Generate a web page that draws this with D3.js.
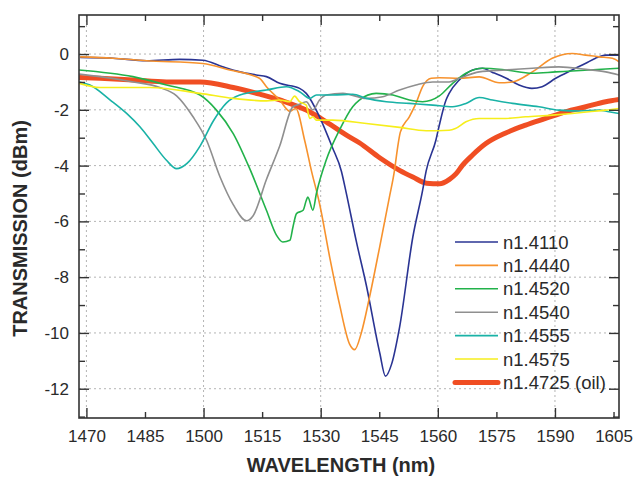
<!DOCTYPE html>
<html>
<head>
<meta charset="utf-8">
<style>
  body { margin: 0; background: #fff; }
  text { font-family: "Liberation Sans", Arial, sans-serif; fill: #2a2a2a; }
  .grid line { stroke: #b4b4b4; stroke-width: 1; stroke-dasharray: 2,3; }
</style>
<script src="https://d3js.org/d3.v7.min.js"></script>
</head>
<body>
<div id="chart"></div>
<script>
// series: [wavelength nm, transmission dBm]
var n14110 = [[1468.4,-0.12],[1476.8,-0.15],[1485.4,-0.24],[1493.9,-0.19],[1499.8,-0.22],[1504.9,-0.46],[1509.3,-0.64],[1513.5,-0.75],[1516.1,-0.81],[1519.5,-1.05],[1524.6,-1.23],[1526.3,-1.41],[1529.7,-2.25],[1533.0,-3.35],[1535.3,-4.2],[1536.5,-4.95],[1539.1,-6.7],[1541.7,-8.3],[1545.1,-10.7],[1546.6,-11.55],[1548.2,-11.1],[1550.2,-9.8],[1553.6,-6.56],[1556.1,-4.89],[1557.0,-4.2],[1559.5,-3.09],[1560.3,-2.6],[1562.1,-1.65],[1562.9,-1.41],[1565.5,-0.93],[1568.9,-0.57],[1571.4,-0.51],[1573.9,-0.65],[1577.4,-0.86],[1580.8,-1.11],[1584.1,-1.23],[1586.7,-1.17],[1590.2,-0.87],[1594.4,-0.57],[1597.9,-0.33],[1600.4,-0.15],[1603.0,-0.04],[1606.4,-0.04]];
var n14440 = [[1468.4,-0.1],[1476.8,-0.15],[1485.4,-0.24],[1499.8,-0.34],[1506.7,-0.57],[1514.3,-0.87],[1516.1,-1.17],[1519.5,-1.65],[1522.1,-2.05],[1523.6,-1.95],[1525.9,-3.1],[1527.6,-4.17],[1529.7,-5.36],[1532.3,-7.28],[1534.8,-8.96],[1537.4,-10.4],[1538.7,-10.6],[1540.4,-10.0],[1542.5,-8.72],[1545.1,-6.92],[1547.6,-5.13],[1548.9,-4.17],[1549.6,-3.45],[1550.4,-2.8],[1552.7,-2.25],[1554.4,-1.77],[1556.1,-1.17],[1558.3,-0.87],[1560.4,-0.85],[1565.5,-0.87],[1570.6,-0.82],[1575.7,-1.03],[1579.1,-1.0],[1584.2,-0.64],[1589.3,-0.15],[1594.4,0.02],[1597.9,-0.04],[1601.3,-0.1],[1604.7,-0.15],[1606.4,-0.28]];
var n14520 = [[1468.1,-0.57],[1481.9,-0.81],[1490.5,-1.11],[1499.1,-1.47],[1503.3,-2.01],[1507.6,-2.85],[1511.8,-4.1],[1516.1,-5.6],[1518.7,-6.5],[1520.3,-6.74],[1522.1,-6.68],[1522.9,-6.2],[1523.8,-5.72],[1525.5,-5.6],[1526.3,-5.25],[1526.7,-5.13],[1528.0,-5.6],[1528.9,-5.0],[1531.4,-3.81],[1534.8,-2.73],[1538.2,-1.89],[1539.9,-1.65],[1544.2,-1.41],[1548.5,-1.47],[1552.7,-1.65],[1556.1,-1.71],[1560.4,-1.5],[1563.8,-1.05],[1567.2,-0.69],[1571.5,-0.51],[1577.4,-0.57],[1584.2,-0.69],[1590.2,-0.64],[1598.7,-0.57],[1606.4,-0.51]];
var n14540 = [[1468.1,-0.72],[1473.5,-0.81],[1482.0,-1.0],[1488.8,-1.2],[1493.1,-1.5],[1497.3,-2.25],[1500.8,-3.1],[1504.2,-4.4],[1507.6,-5.4],[1511.0,-5.98],[1512.7,-5.8],[1516.1,-4.5],[1519.5,-3.3],[1522.9,-1.89],[1524.6,-1.8],[1526.3,-1.71],[1528.0,-2.0],[1529.7,-1.65],[1531.4,-1.47],[1535.7,-1.41],[1541.7,-1.59],[1545.9,-1.53],[1550.2,-1.29],[1554.4,-1.11],[1558.7,-1.0],[1562.9,-1.0],[1565.5,-0.87],[1570.6,-0.64],[1577.4,-0.57],[1584.2,-0.51],[1591.0,-0.46],[1597.9,-0.55],[1603.0,-0.64],[1606.4,-0.75]];
var n14555 = [[1468.1,-1.0],[1470.9,-1.11],[1476.1,-1.65],[1480.3,-2.13],[1483.7,-2.61],[1487.1,-3.21],[1490.5,-3.81],[1493.1,-4.11],[1495.7,-3.93],[1499.1,-3.3],[1502.5,-2.4],[1505.9,-1.75],[1509.3,-1.47],[1511.8,-1.38],[1516.1,-1.29],[1521.2,-1.17],[1524.6,-1.35],[1527.2,-1.59],[1528.9,-1.47],[1533.1,-1.47],[1538.2,-1.44],[1541.7,-1.59],[1546.8,-1.71],[1552.7,-1.77],[1558.7,-1.83],[1563.8,-1.89],[1567.2,-1.77],[1570.6,-1.56],[1574.0,-1.65],[1579.1,-1.77],[1585.9,-1.89],[1591.0,-2.01],[1596.1,-2.04],[1601.3,-2.01],[1603.8,-2.07],[1606.4,-2.13]];
var n14575 = [[1468.1,-1.05],[1473.5,-1.2],[1486.3,-1.2],[1499.1,-1.41],[1507.6,-1.59],[1516.1,-1.68],[1519.5,-1.65],[1522.1,-1.71],[1523.3,-1.51],[1524.6,-1.71],[1526.3,-1.83],[1527.2,-2.31],[1528.0,-2.25],[1528.9,-2.37],[1533.1,-2.37],[1541.7,-2.49],[1550.2,-2.63],[1557.0,-2.75],[1562.9,-2.73],[1564.5,-2.67],[1567.2,-2.43],[1570.6,-2.31],[1577.4,-2.31],[1582.5,-2.25],[1589.3,-2.19],[1594.4,-2.13],[1598.7,-2.07],[1603.0,-2.01],[1606.4,-1.95]];
var n14725 = [[1468.1,-0.84],[1473.5,-0.87],[1482.0,-0.93],[1490.5,-1.0],[1499.1,-1.0],[1507.6,-1.2],[1514.4,-1.44],[1520.3,-1.68],[1526.3,-2.01],[1531.4,-2.43],[1536.5,-2.9],[1539.9,-3.18],[1545.1,-3.72],[1550.2,-4.17],[1553.6,-4.41],[1557.1,-4.63],[1560.5,-4.65],[1562.9,-4.5],[1564.7,-4.29],[1566.3,-3.99],[1568.9,-3.62],[1572.3,-3.21],[1577.4,-2.83],[1582.5,-2.55],[1587.6,-2.31],[1592.7,-2.07],[1597.9,-1.89],[1603.0,-1.71],[1606.4,-1.63]];

var seriesNames = ["n1.4110", "n1.4440", "n1.4520", "n1.4540", "n1.4555", "n1.4575", "n1.4725 (oil)"];
var seriesData = [n14110, n14440, n14520, n14540, n14555, n14575, n14725];
var seriesColors = ["#2a3493", "#f7922d", "#22b24a", "#8f8f8f", "#19b2a6", "#f6ee1c", "#f04e23"];
var seriesWidths = [1.6, 1.6, 1.6, 1.6, 1.6, 1.6, 5];

var xTicks = [1470, 1485, 1500, 1515, 1530, 1545, 1560, 1575, 1590, 1605];
var xGrid = [1470, 1500, 1530, 1560, 1590];
var yTicks = [0, -2, -4, -6, -8, -10, -12];
var yMinor = [1, -1, -3, -5, -7, -9, -11, -13];

var W = 634, H = 477;
var margin = {top: 15, right: 15, bottom: 59, left: 79},
    width = W - margin.left - margin.right,
    height = H - margin.top - margin.bottom;

var svg = d3.select("#chart").append("svg")
    .attr("width", W).attr("height", H)
  .append("g")
    .attr("transform", "translate(" + margin.left + "," + margin.top + ")");

var x = d3.scaleLinear().domain([1468.1, 1606.4]).range([0, width]);
var y = d3.scaleLinear().domain([-13.05, 1.4]).range([height, 0]);

// grid
var grid = svg.append("g").attr("class", "grid");
grid.selectAll(".gx").data(xGrid).enter().append("line")
    .attr("x1", d => x(d)).attr("x2", d => x(d))
    .attr("y1", 0).attr("y2", height);
grid.selectAll(".gy").data(yTicks).enter().append("line")
    .attr("x1", 0).attr("x2", width)
    .attr("y1", d => y(d)).attr("y2", d => y(d));

// curves
svg.append("clipPath").attr("id", "clip")
  .append("rect").attr("width", width).attr("height", height);

var line = d3.line()
    .x(d => x(d[0]))
    .y(d => y(d[1]))
    .curve(d3.curveMonotoneX);

var order = [6, 0, 1, 2, 3, 4, 5];
var plot = svg.append("g").attr("clip-path", "url(#clip)");
order.forEach(function(i) {
  plot.append("path")
    .datum(seriesData[i])
    .attr("fill", "none")
    .attr("stroke", seriesColors[i])
    .attr("stroke-width", seriesWidths[i])
    .attr("stroke-linejoin", "round")
    .attr("d", line);
});

// axes (ticks pointing inward)
var axisColor = "#333";
function styleAxis(g) {
  g.select(".domain").remove();
  g.selectAll(".tick line").attr("stroke", axisColor).attr("stroke-width", 1.4);
  g.selectAll(".tick text").style("font-size", "17px").attr("fill", "#2a2a2a");
}
function tickLen(d, majors) { return majors.indexOf(d) >= 0 ? 10 : 6; }

var xb = svg.append("g").attr("transform", "translate(0," + height + ")")
    .call(d3.axisBottom(x).tickValues(xTicks).tickFormat(d3.format("d")).tickSize(0).tickPadding(14));
styleAxis(xb);
xb.selectAll(".tick line").attr("y2", d => -tickLen(d, xGrid));
xb.selectAll(".tick text").attr("dy", "0.71em").attr("y", 12);

var xt = svg.append("g")
    .call(d3.axisTop(x).tickValues(xTicks).tickFormat("").tickSize(0));
styleAxis(xt);
xt.selectAll(".tick line").attr("y2", d => tickLen(d, xGrid));

var yl = svg.append("g")
    .call(d3.axisLeft(y).tickValues(yTicks.concat(yMinor)).tickSize(0).tickPadding(10)
      .tickFormat(d => yTicks.indexOf(d) >= 0 ? d : ""));
styleAxis(yl);
yl.selectAll(".tick line").attr("x2", d => tickLen(d, yTicks));

var yr = svg.append("g").attr("transform", "translate(" + width + ",0)")
    .call(d3.axisRight(y).tickValues(yTicks.concat(yMinor)).tickFormat("").tickSize(0));
styleAxis(yr);
yr.selectAll(".tick line").attr("x2", d => -tickLen(d, yTicks));

svg.append("rect")
    .attr("width", width).attr("height", height)
    .attr("fill", "none").attr("stroke", axisColor).attr("stroke-width", 1.6);

// axis titles
svg.append("text")
    .attr("x", width / 2 - 8).attr("y", height + 54)
    .attr("text-anchor", "middle")
    .style("font-size", "20px").style("font-weight", "bold")
    .text("WAVELENGTH (nm)");
svg.append("text")
    .attr("transform", "translate(" + (-52) + "," + (height / 2 + 12) + ") rotate(-90)")
    .attr("text-anchor", "middle")
    .style("font-size", "20px").style("font-weight", "bold")
    .text("TRANSMISSION (dBm)");

// legend
var legend = svg.append("g").attr("transform", "translate(376,227)");
seriesNames.forEach(function(name, i) {
  var row = legend.append("g").attr("transform", "translate(0," + (i * 23.4) + ")");
  row.append("line")
    .attr("x1", 0).attr("x2", 43)
    .attr("stroke", seriesColors[i])
    .attr("stroke-width", seriesWidths[i])
    .attr("stroke-linecap", i === 6 ? "round" : "butt");
  row.append("text")
    .attr("x", 48).attr("y", 6.5)
    .style("font-size", "18.5px")
    .text(name);
});
</script>
</body>
</html>
